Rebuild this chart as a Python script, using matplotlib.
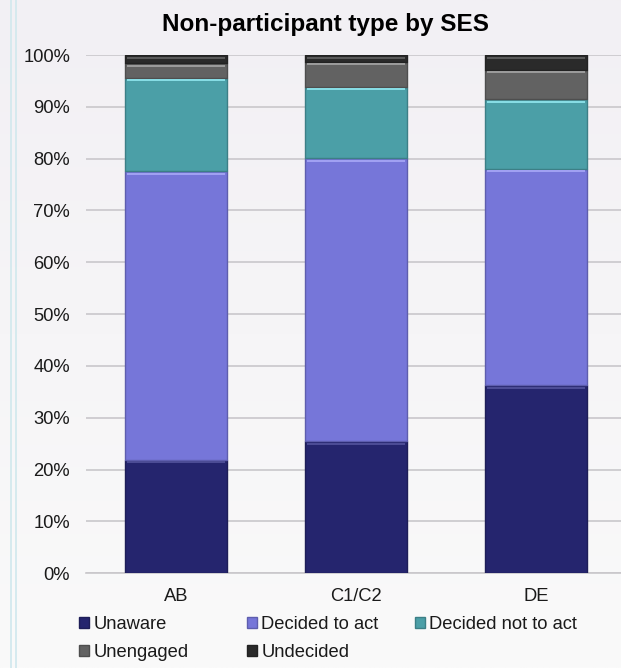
import numpy as np
import matplotlib
matplotlib.use("Agg")
import matplotlib.pyplot as plt
from matplotlib.colors import to_rgb
from matplotlib.lines import Line2D

plt.rcParams['font.family'] = ['Liberation Sans', 'DejaVu Sans']

# Share of non-participants by socio-economic group (%)
groups = ["AB", "C1/C2", "DE"]
series_names = ["Unaware", "Decided to act", "Decided not to act", "Unengaged", "Undecided"]
unaware = [21.9, 25.5, 36.3]
decided_to_act = [55.7, 54.6, 41.8]
decided_not_to_act = [18.0, 13.8, 13.4]
unengaged = [2.8, 4.8, 5.7]
undecided = [1.6, 1.3, 2.8]
ytick_labels = ["0%", "10%", "20%", "30%", "40%", "50%", "60%", "70%", "80%", "90%", "100%"]

series_values = [unaware, decided_to_act, decided_not_to_act, unengaged, undecided]
colors = ["#25256E", "#7676D9", "#4B9FA7", "#626262", "#2A2A2A"]
highlights = ["#4C4C95", "#A0A0F2", "#86DCE4", "#9A9A9A", "#5A5A5A"]


def shade(c, f):
    r, g, b = to_rgb(c)
    return (r * f, g * f, b * f)


W, H, DPI = 621, 668, 100
fig = plt.figure(figsize=(W / DPI, H / DPI), dpi=DPI)

# Soft vertical gradient behind everything
bg = fig.add_axes([0, 0, 1, 1], zorder=-10)
top_c = np.array(to_rgb("#F2F0F4"))
bot_c = np.array(to_rgb("#FAFAFA"))
t = np.linspace(0, 1, 256)[:, None]
grad = top_c[None, None, :] * (1 - t[:, :, None]) + bot_c[None, None, :] * t[:, :, None]
bg.imshow(np.repeat(grad, 2, axis=1), aspect="auto", extent=[0, 1, 0, 1])
bg.set_axis_off()
# Slide frame lines on the left
for xp in (11, 16):
    fig.add_artist(Line2D([xp / W, xp / W], [0, 1], color="#D3E9EE", lw=1.3))

ax = fig.add_axes([86 / W, 94.7 / H, 540 / W, 518.3 / H])
ax.set_facecolor("none")

x = np.arange(len(groups))
bw = 0.57
bottom = np.zeros(len(groups))
handles = []
for name, vals, col, hl in zip(series_names, series_values, colors, highlights):
    vals = np.array(vals)
    h = ax.bar(x, vals, bw, bottom=bottom, color=col, edgecolor=shade(col, 0.8),
               linewidth=1.0, label=name, zorder=3)
    handles.append(h)
    # bevel highlight along the top edge of each segment
    tops = bottom + vals
    ax.bar(x, np.full(len(groups), 0.4), bw - 0.03, bottom=tops - 0.7,
           color=hl, linewidth=0, zorder=4)
    bottom = tops

ax.set_xlim(-0.5, 2.5)
ax.set_ylim(0, 100)
ax.set_yticks(np.arange(0, 101, 10))
ax.set_yticklabels(ytick_labels)
ax.set_xticks(x)
ax.set_xticklabels(groups)
ax.yaxis.grid(True, color="#C9C7CB", lw=1.2, zorder=0)
ax.set_axisbelow(True)
for s in ("left", "right", "top"):
    ax.spines[s].set_visible(False)
ax.spines["bottom"].set_color("#C9C7CB")
ax.spines["bottom"].set_linewidth(1.2)
ax.tick_params(axis="both", length=0, labelsize=13.2, labelcolor="#1a1a1a")
ax.tick_params(axis="y", pad=11.5)
ax.tick_params(axis="x", pad=10.5)

fig.text(325.5 / W, 1 - 30.7 / H, "Non-participant type by SES", ha="center", va="baseline",
         fontsize=17.5, fontweight="bold", color="#000000")

# Legend laid out row-wise in three evenly spaced columns
columns = [[0, 3], [1, 4], [2]]
col_x = [79, 246.5, 414.5]
for idx, cx in zip(columns, col_x):
    leg = fig.legend([handles[i] for i in idx], [series_names[i] for i in idx],
                     ncol=1, loc="upper left", bbox_to_anchor=(cx / W, 1 - 616 / H),
                     frameon=False, fontsize=13.2, handlelength=0.55, handleheight=0.55,
                     handletextpad=0.25, labelspacing=0.62,
                     borderpad=0, borderaxespad=0)
    for txt in leg.get_texts():
        txt.set_color("#1a1a1a")

fig.savefig("out.png", dpi=DPI, facecolor=fig.get_facecolor())
